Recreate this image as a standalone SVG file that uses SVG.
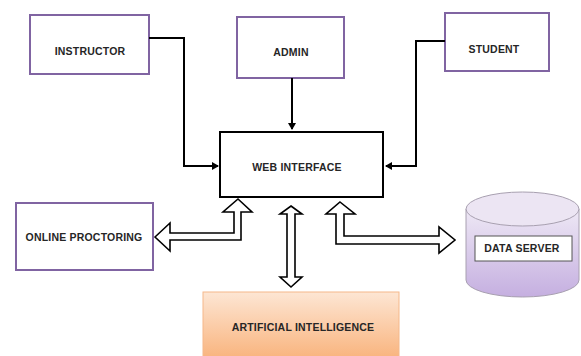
<svg xmlns="http://www.w3.org/2000/svg" width="581" height="356" viewBox="0 0 581 356">
<defs>
<style>
.lbl{font-family:"Liberation Sans",Arial,sans-serif;font-weight:bold;font-size:10.5px;letter-spacing:0.2px;fill:#262626;text-anchor:middle;dominant-baseline:central}
.pbox{fill:#fff;stroke:#8064a2;stroke-width:2}
.bbox{fill:#fff;stroke:#000;stroke-width:2}
.line{fill:none;stroke:#000;stroke-width:2}
.hollow{fill:#fff;stroke:#000;stroke-width:1.6;stroke-linejoin:miter}
</style>
<marker id="ah" markerWidth="8" markerHeight="8" refX="6" refY="4" orient="auto" markerUnits="userSpaceOnUse">
<path d="M0,0 L7,4 L0,8 Z" fill="#000"/>
</marker>
<linearGradient id="orange" x1="0" y1="0" x2="0" y2="1">
<stop offset="0" stop-color="#fde6d4"/>
<stop offset="1" stop-color="#f9b47e"/>
</linearGradient>
<linearGradient id="purple" x1="0" y1="0" x2="0" y2="1">
<stop offset="0" stop-color="#eee8f5"/>
<stop offset="1" stop-color="#c5afe0"/>
</linearGradient>
</defs>

<g id="instructor">
<rect class="pbox" x="30" y="15" width="119" height="59"/>
<text class="lbl" x="90" y="51">INSTRUCTOR</text>
</g>
<g id="admin">
<rect class="pbox" x="237" y="17" width="107" height="61"/>
<text class="lbl" x="291" y="52">ADMIN</text>
</g>
<g id="student">
<rect class="pbox" x="445" y="13" width="104" height="58"/>
<text class="lbl" x="494" y="49">STUDENT</text>
</g>
<g id="web-interface">
<rect class="bbox" x="220" y="132" width="163" height="65"/>
<text class="lbl" x="297" y="167">WEB INTERFACE</text>
</g>
<g id="online-proctoring">
<rect class="pbox" x="16" y="203" width="137" height="67"/>
<text class="lbl" x="84" y="237">ONLINE PROCTORING</text>
</g>
<g id="data-server">
<path d="M466,209 L466,280 A56.5,17 0 0 0 579,280 L579,209 Z" fill="url(#purple)" stroke="#a8a0b0" stroke-width="1"/>
<ellipse cx="522.5" cy="209" rx="56.5" ry="17" fill="#ece5f3" stroke="#a8a0b0" stroke-width="1"/>
<rect x="475" y="236" width="97" height="25" fill="#fff" stroke="#555" stroke-width="1"/>
<text class="lbl" x="522" y="248">DATA SERVER</text>
</g>
<g id="artificial-intelligence">
<rect x="203" y="292" width="196" height="66" fill="url(#orange)" stroke="#f5b88a" stroke-width="1"/>
<text class="lbl" x="303" y="327">ARTIFICIAL INTELLIGENCE</text>
</g>

<g id="connectors">
<path class="line" d="M149,38 L184,38 L184,166 L218,166" marker-end="url(#ah)"/>
<path class="line" d="M292,78 L292,129" marker-end="url(#ah)"/>
<path class="line" d="M445,41 L416,41 L416,166 L386,166" marker-end="url(#ah)"/>
<polygon class="hollow" points="155,237 170,223 170,233 234,233 234,212 223,212 238,199 252,212 241,212 241,240 170,240 170,251"/>
<polygon class="hollow" points="291,206 302,214 295,214 295,277 302,277 291,287 280,277 287,277 287,214 280,214"/>
<polygon class="hollow" points="340,202 355,214 344,214 344,236 439,236 439,227 455,240 439,253 439,244 336,244 336,214 326,214"/>
</g>
</svg>
